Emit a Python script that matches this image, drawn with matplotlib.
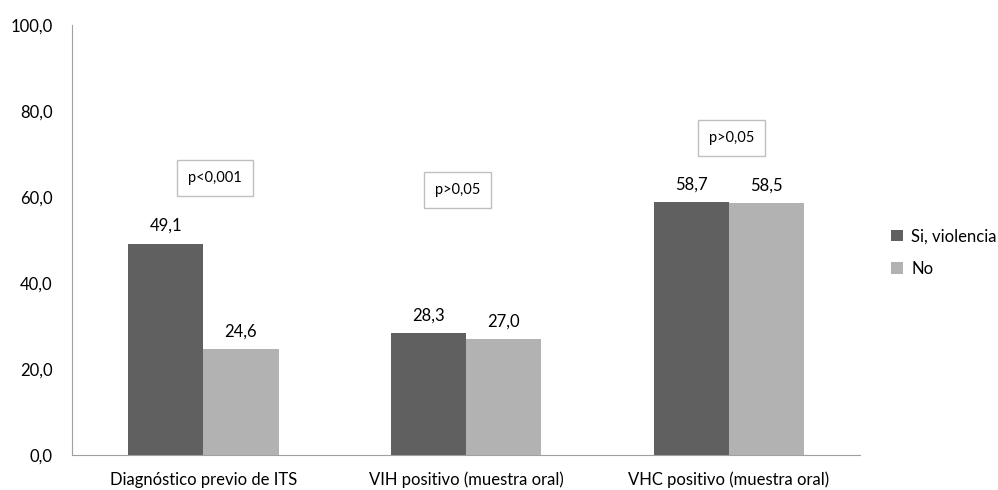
import numpy as np
import matplotlib
matplotlib.use('Agg')
import matplotlib.pyplot as plt

plt.rcParams['font.family'] = ['Lato', 'DejaVu Sans']

categorias = ['Diagnóstico previo de ITS', 'VIH positivo (muestra oral)', 'VHC positivo (muestra oral)']
si_violencia = [49.1, 28.3, 58.7]
no_violencia = [24.6, 27.0, 58.5]
p_valores = ['p<0,001', 'p>0,05', 'p>0,05']
p_pos = [(0.045, 64.4), (0.967, 61.7), (2.01, 73.7)]

fig = plt.figure(figsize=(9.98, 4.9), dpi=100)
ax = fig.add_axes([0.0721, 0.0714, 0.79, 0.878])

x = np.arange(len(categorias))
w = 0.286
b1 = ax.bar(x - w/2, si_violencia, w, color='#606060', label='Si, violencia')
b2 = ax.bar(x + w/2, no_violencia, w, color='#b2b2b2', label='No')

for bars, vals in [(b1, si_violencia), (b2, no_violencia)]:
    for r, v in zip(bars, vals):
        ax.annotate(f'{v:.1f}'.replace('.', ','), (r.get_x() + r.get_width()/2, v),
                    xytext=(0, 7), textcoords='offset points', ha='center', va='bottom',
                    fontsize=12, color='black')

for txt, (px, py) in zip(p_valores, p_pos):
    ax.text(px, py, txt, ha='center', va='center', fontsize=10.5,
            bbox=dict(boxstyle='square,pad=0.75', fc='white', ec='#bfbfbf', lw=1))

ax.set_xlim(-0.5, 2.5)
ax.set_ylim(0, 100)
ax.set_yticks(np.arange(0, 101, 20))
ax.set_yticklabels([f'{v:.1f}'.replace('.', ',') for v in np.arange(0, 101, 20)], fontsize=12)
ax.set_xticks(x)
ax.set_xticklabels(categorias, fontsize=12)
ax.tick_params(axis='x', length=0, pad=12)
ax.tick_params(axis='y', length=0, pad=14)

for s in ['top', 'right']:
    ax.spines[s].set_visible(False)
ax.spines['left'].set_color('#a0a0a0')
ax.spines['bottom'].set_color('#a0a0a0')

ax.legend(loc='center left', bbox_to_anchor=(1.02, 0.47), frameon=False, fontsize=12,
          handlelength=0.7, handleheight=0.7, handletextpad=0.5, labelspacing=1.0)

plt.savefig('out.png', dpi=100)
